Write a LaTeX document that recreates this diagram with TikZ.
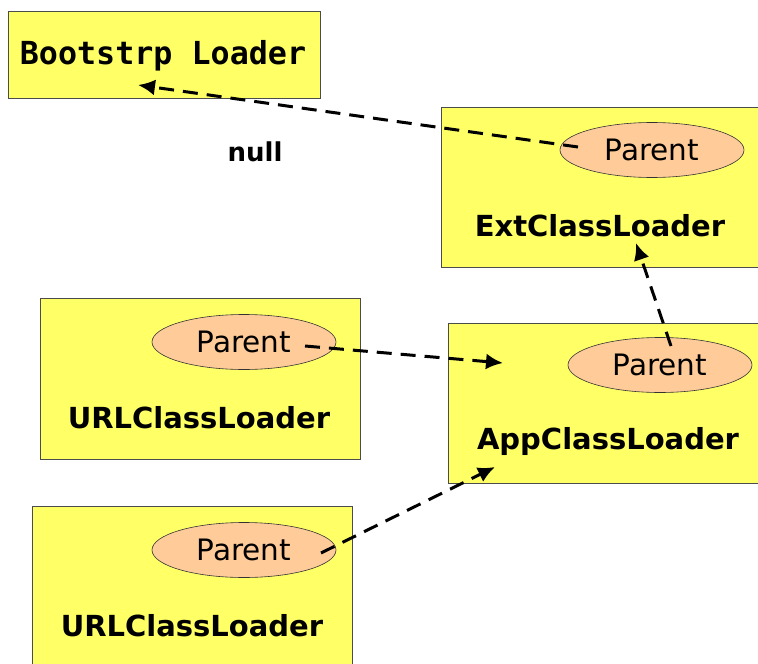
\documentclass[tikz,border=0pt]{standalone}
\usepackage{fontspec}
\setmainfont{DejaVu Sans}
\newfontfamily\monof{DejaVu Sans Mono}
\usetikzlibrary{arrows.meta,shapes.geometric}
\definecolor{boxy}{RGB}{255,255,102}
\definecolor{peach}{RGB}{255,204,153}
\begin{document}
\begin{tikzpicture}[x=1pt,y=-1pt,
  box/.style={draw=black!70, fill=boxy, line width=0.8pt, inner sep=0pt, anchor=north west},
  par/.style={ellipse, draw=black!80, fill=peach, line width=0.6pt, minimum width=184pt, minimum height=55pt, inner sep=0pt, font=\fontsize{29.5}{32}\selectfont},
  lbl/.style={font=\fontsize{29}{32}\selectfont\bfseries, inner sep=0pt},
  dasharrow/.style={line width=3pt, dash pattern=on 15pt off 9pt, -{Latex[length=17pt,width=16pt]}}]
\useasboundingbox (0,0) rectangle (758,664);
\clip (0,0) rectangle (758,664);
% boxes
\node[box, minimum width=312pt, minimum height=87pt] (bootbox) at (8,11) {};
\node[box, minimum width=330pt, minimum height=160pt] (extbox) at (441,107) {};
\node[box, minimum width=320pt, minimum height=161pt] (url1box) at (40,298) {};
\node[box, minimum width=320pt, minimum height=160pt] (appbox) at (448,323) {};
\node[box, minimum width=320pt, minimum height=180pt] (url2box) at (32,506) {};
% labels
\node[inner sep=0pt, font=\fontsize{31.7}{34}\selectfont\monof\bfseries] (boottxt) at (163,56) {Bootstrp Loader};
\node[font=\fontsize{26}{30}\selectfont\bfseries, inner sep=0pt] (nulltxt) at (255,152) {null};
\node[lbl] (exttxt) at (600,226) {ExtClassLoader};
\node[lbl] (url1txt) at (199,418) {URLClassLoader};
\node[lbl] (apptxt) at (608,441) {AppClassLoader};
\node[lbl] (url2txt) at (192,626) {URLClassLoader};
% parent ellipses
\node[par] (extp) at (652,150) {Parent};
\node[par] (url1p) at (244,342) {Parent};
\node[par] (appp) at (660,365) {Parent};
\node[par] (url2p) at (244,550) {Parent};
% connector end points
\coordinate (a1s) at (578,147);
\coordinate (a1e) at (138,85);
\coordinate (a2s) at (671,346);
\coordinate (a2e) at (636,243);
\coordinate (a3s) at (305,346);
\coordinate (a3e) at (503,363);
\coordinate (a4s) at (321,553);
\coordinate (a4e) at (495,467);
\draw[dasharrow] (a1s) -- (a1e);
\draw[dasharrow] (a2s) -- (a2e);
\draw[dasharrow] (a3s) -- (a3e);
\draw[dasharrow] (a4s) -- (a4e);
\end{tikzpicture}
\end{document}
